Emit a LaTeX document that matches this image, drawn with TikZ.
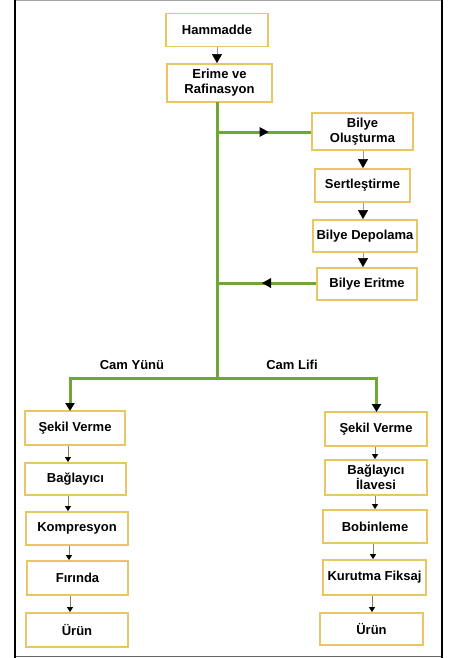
\documentclass[tikz,border=0pt]{standalone}
\usepackage{fontspec}
\setmainfont{Liberation Sans}
\usetikzlibrary{arrows.meta,decorations.markings}
\definecolor{boxgold}{RGB}{232,198,100}
\definecolor{trunkgreen}{RGB}{112,166,50}
\definecolor{thingray}{RGB}{150,150,150}
\definecolor{stemgreen}{RGB}{120,140,80}
\tikzset{
  stepbox/.style={draw=boxgold, line width=1.8pt, fill=white, align=center,
    font=\fontsize{13}{15}\selectfont\bfseries, inner sep=1pt},
  bigtip/.style={-{Triangle[length=9pt,width=10pt,color=black]}, draw=thingray, line width=0.6pt},
  smalltip/.style={-{Triangle[length=5pt,width=6pt,color=black]}, draw=stemgreen, line width=0.9pt},
  trunk/.style={draw=trunkgreen, line width=3pt},
  midtip/.style={trunk, postaction={decorate}, decoration={markings,
    mark=at position 0.5 with {\fill[black] (4.5pt,0) -- (-4.5pt,5pt) -- (-4.5pt,-5pt) -- cycle;}}},
  lbl/.style={font=\fontsize{13}{15}\selectfont\bfseries}
}
\begin{document}
\begin{tikzpicture}[x=1pt,y=-1pt]
\useasboundingbox (0,0) rectangle (451,658);
% frame
\draw[gray!70, line width=1pt] (15,0.5) -- (442,0.5);
\draw[gray!80!black, line width=1pt] (15,656.5) -- (442,656.5);
\draw[black, line width=2pt] (15,0) -- (15,658);
\draw[black, line width=2pt] (441.5,0) -- (441.5,658);

% main column
\node[stepbox, minimum width=102pt, minimum height=33pt] (ham) at (217,30) {Hammadde};
\node[stepbox, minimum width=105pt, minimum height=38pt] (eri) at (219.5,83) {Erime ve\\Rafinasyon};

% bead line
\node[stepbox, minimum width=101pt, minimum height=37pt] (olu) at (362.5,131.5) {Bilye\\Oluşturma};
\node[stepbox, minimum width=95pt, minimum height=33pt] (ser) at (362.5,185.5) {Sertleştirme};
\node[stepbox, minimum width=104pt, minimum height=32pt] (dep) at (365,236) {Bilye Depolama};
\node[stepbox, minimum width=100pt, minimum height=32pt] (ert) at (367,284) {Bilye Eritme};

% wool branch
\node[stepbox, minimum width=100pt, minimum height=34pt] (ls1) at (75,428) {Şekil Verme};
\node[stepbox, minimum width=101pt, minimum height=32pt] (ls2) at (75.5,479) {Bağlayıcı};
\node[stepbox, minimum width=102pt, minimum height=33pt] (ls3) at (77,528.5) {Kompresyon};
\node[stepbox, minimum width=101pt, minimum height=34pt] (ls4) at (77.5,578) {Fırında};
\node[stepbox, minimum width=102pt, minimum height=34pt] (ls5) at (77,630) {Ürün};

% fibre branch
\node[stepbox, minimum width=102pt, minimum height=34pt] (rs1) at (376,429) {Şekil Verme};
\node[stepbox, minimum width=102pt, minimum height=35pt] (rs2) at (376,477.5) {Bağlayıcı\\İlavesi};
\node[stepbox, minimum width=104pt, minimum height=33pt] (rs3) at (375,526.5) {Bobinleme};
\node[stepbox, minimum width=103pt, minimum height=35pt] (rs4) at (374.5,577.5) {Kurutma Fiksaj};
\node[stepbox, minimum width=103pt, minimum height=32pt] (rs5) at (371.5,629) {Ürün};

% trunk points
\coordinate (ttop) at (217,102);
\coordinate (tb1) at (217,132);
\coordinate (tb2) at (217,283);
\coordinate (split) at (217,378);

\draw[bigtip] (ham.south -| 217,0) -- (eri.north -| 217,0);
\draw[trunk] (ttop) -- (split);
\draw[midtip] (tb1) -- (olu.west |- tb1);
\draw[midtip] (ert.west |- tb2) -- (tb2);

\draw[bigtip] (olu.south -| 363,0) -- (ser.north -| 363,0);
\draw[bigtip] (ser.south -| 363,0) -- (dep.north -| 363,0);
\draw[bigtip] (dep.south -| 363,0) -- (ert.north -| 363,0);

\draw[trunk, -{Triangle[length=8pt,width=9pt,color=black]}] (split) -| (70,411) coordinate (lend);
\draw[trunk, -{Triangle[length=8pt,width=9pt,color=black]}] (split) -| (376.5,412) coordinate (rend);
\node[lbl] (cy) at (132,365) {Cam Yünü};
\node[lbl] (cl) at (292,365) {Cam Lifi};

\draw[smalltip] (ls1.south -| 68,0) -- (ls2.north -| 68,0);
\draw[smalltip] (ls2.south -| 68,0) -- (ls3.north -| 68,0);
\draw[smalltip] (ls3.south -| 69,0) -- (ls4.north -| 69,0);
\draw[smalltip] (ls4.south -| 70,0) -- (ls5.north -| 70,0);

\draw[smalltip] (rs1.south -| 375,0) -- (rs2.north -| 375,0);
\draw[smalltip] (rs2.south -| 375,0) -- (rs3.north -| 375,0);
\draw[smalltip] (rs3.south -| 373,0) -- (rs4.north -| 373,0);
\draw[smalltip] (rs4.south -| 372,0) -- (rs5.north -| 372,0);
\end{tikzpicture}
\end{document}
